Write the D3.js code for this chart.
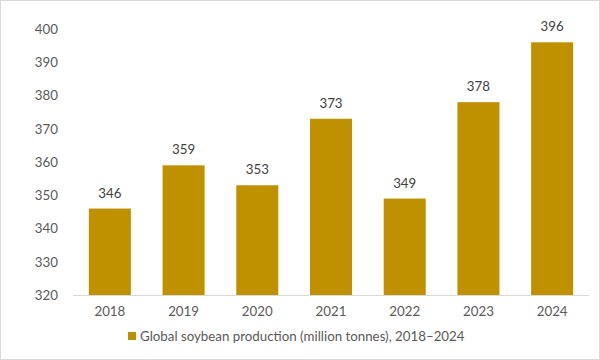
<!DOCTYPE html>
<html><head><meta charset="utf-8">
<script src="https://cdn.jsdelivr.net/npm/d3@7"></script>
<style>body{margin:0;background:#fff}svg{display:block}text{font-family:Lato,"Open Sans",sans-serif}</style>
</head><body><svg id="c" width="600" height="360"></svg>
<script>
const years = ["2018","2019","2020","2021","2022","2023","2024"];
const production = [346,359,353,373,349,378,396];
const yTicks = [320,330,340,350,360,370,380,390,400];
const legendLabel = "Global soybean production (million tonnes), 2018–2024";

const svg = d3.select("#c");
svg.append("rect").attr("x",0.5).attr("y",0.5).attr("width",599).attr("height",359)
  .attr("fill","#fff").attr("stroke","#d9d9d9");
const m = {l:73,r:11,t:29,b:65};
const W=600,H=360;
const fs = "13.3px";
const x = d3.scaleBand().domain(years).range([m.l,W-m.r]).paddingInner(0.43).paddingOuter(0.215);
const y = d3.scaleLinear().domain([320,400]).range([H-m.b,m.t]);
const g = svg.append("g");
g.selectAll("rect.bar").data(production).join("rect").attr("class","bar")
  .attr("x",(d,i)=>x(years[i])).attr("width",x.bandwidth())
  .attr("y",d=>y(d)).attr("height",d=>y(320)-y(d)).attr("fill","#bf9000");
g.append("line").attr("x1",m.l).attr("x2",W-m.r).attr("y1",y(320)+0.5).attr("y2",y(320)+0.5)
  .attr("stroke","#d9d9d9");
const ya = svg.append("g").attr("transform",`translate(${m.l-15},0)`)
  .call(d3.axisLeft(y).tickValues(yTicks).tickSize(0).tickPadding(0));
ya.select(".domain").remove();
ya.selectAll("text").attr("fill","#595959").style("font-size",fs).style("font-family","Lato,sans-serif");
const xa = svg.append("g").attr("transform",`translate(0,${y(320)+12})`)
  .call(d3.axisBottom(x).tickSize(0).tickPadding(0));
xa.select(".domain").remove();
xa.selectAll("text").attr("fill","#595959").style("font-size",fs).style("font-family","Lato,sans-serif");
g.selectAll("text.lab").data(production).join("text").attr("class","lab")
  .attr("x",(d,i)=>x(years[i])+x.bandwidth()/2).attr("y",d=>y(d)-11)
  .attr("text-anchor","middle").attr("fill","#404040").style("font-size",fs).text(d=>d);
const lg = svg.append("g");
lg.append("rect").attr("x",128).attr("y",332).attr("width",8).attr("height",8).attr("fill","#bf9000");
lg.append("text").attr("x",140).attr("y",340.5).attr("fill","#595959").style("font-size",fs).text(legendLabel);
</script></body></html>
